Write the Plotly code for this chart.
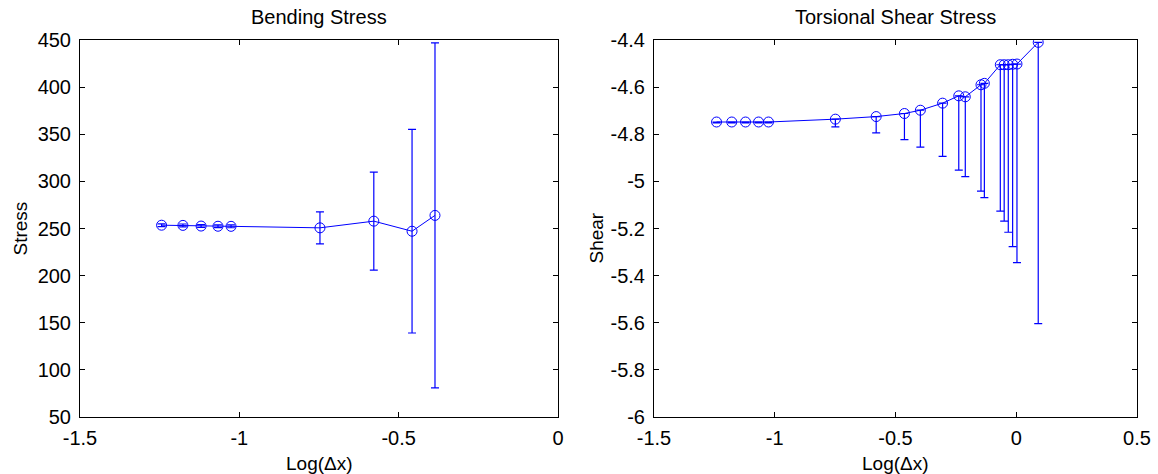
import plotly.graph_objects as go

# Bending stress estimates vs log step size
bend_x = [-1.244, -1.177, -1.120, -1.067, -1.026, -0.747, -0.578, -0.458, -0.386]
bend_y = [253.5, 253.3, 252.6, 252.4, 252.3, 250.7, 257.8, 247.1, 263.9]
bend_err = [1.5, 1.5, 1.5, 1.5, 1.5, 17.0, 52.0, 108.0, 183.0]

# Torsional shear stress estimates vs log step size (lower spread only)
shear_x = [-1.241, -1.178, -1.121, -1.067, -1.026, -0.749, -0.580, -0.463, -0.397,
           -0.305, -0.238, -0.211, -0.146, -0.132, -0.066, -0.050, -0.033, -0.015,
           0.003, 0.091]
shear_y = [-4.748, -4.748, -4.748, -4.748, -4.748, -4.736, -4.725, -4.712, -4.698,
           -4.668, -4.637, -4.641, -4.590, -4.584, -4.505, -4.505, -4.505, -4.503,
           -4.502, -4.410]
shear_err_low = [0.004, 0.004, 0.004, 0.004, 0.004, 0.033, 0.069, 0.111, 0.157,
                 0.226, 0.315, 0.339, 0.451, 0.485, 0.621, 0.664, 0.711, 0.774,
                 0.843, 1.194]

# Tick labels
bend_xticks = [-1.5, -1.0, -0.5, 0.0]
bend_xtext = ["-1.5", "-1", "-0.5", "0"]
bend_yticks = [50, 100, 150, 200, 250, 300, 350, 400, 450]
bend_ytext = ["50", "100", "150", "200", "250", "300", "350", "400", "450"]
shear_xticks = [-1.5, -1.0, -0.5, 0.0, 0.5]
shear_xtext = ["-1.5", "-1", "-0.5", "0", "0.5"]
shear_yticks = [-6.0, -5.8, -5.6, -5.4, -5.2, -5.0, -4.8, -4.6, -4.4]
shear_ytext = ["-6", "-5.8", "-5.6", "-5.4", "-5.2", "-5", "-4.8", "-4.6", "-4.4"]

W, H = 1158, 474
BLUE = "rgb(0,0,255)"
FONT = "Liberation Sans, Arial, Helvetica, sans-serif"

fig = go.Figure()

fig.add_trace(go.Scatter(
    x=bend_x, y=bend_y, mode="lines+markers",
    line=dict(color=BLUE, width=1),
    marker=dict(symbol="circle-open", size=10, color=BLUE, line=dict(width=1)),
    error_y=dict(type="data", array=bend_err, visible=True, color=BLUE,
                 thickness=1.2, width=4),
    xaxis="x", yaxis="y", showlegend=False))

fig.add_trace(go.Scatter(
    x=shear_x, y=shear_y, mode="lines+markers",
    line=dict(color=BLUE, width=1),
    marker=dict(symbol="circle-open", size=10, color=BLUE, line=dict(width=1)),
    error_y=dict(type="data", symmetric=False, array=[0] * len(shear_x),
                 arrayminus=shear_err_low, visible=True, color=BLUE,
                 thickness=1.2, width=4),
    xaxis="x2", yaxis="y2", showlegend=False))

# pixel layout of the two panels
L1, R1 = 80, 558
L2, R2 = 654, 1137
TOP, BOT = 40, 417

def fx(px):
    return px / W

def fy(py):
    return 1 - py / H

axis_common = dict(
    showgrid=False, zeroline=False, showline=True, linecolor="black", linewidth=1,
    mirror="ticks", ticks="inside", ticklen=5, tickcolor="black", automargin=False,
    tickfont=dict(family=FONT, size=20, color="black"),
)

fig.update_layout(
    width=W, height=H,
    margin=dict(l=0, r=0, t=0, b=0, autoexpand=False),
    paper_bgcolor="white", plot_bgcolor="white",
    xaxis=dict(domain=[fx(L1), fx(R1)], range=[-1.5, 0], anchor="y",
               tickmode="array", tickvals=bend_xticks, ticktext=bend_xtext,
               ticklabelstandoff=3, **axis_common),
    yaxis=dict(domain=[fy(BOT), fy(TOP)], range=[50, 450], anchor="x",
               tickmode="array", tickvals=bend_yticks, ticktext=bend_ytext,
               ticklabelstandoff=4, **axis_common),
    xaxis2=dict(domain=[fx(L2), fx(R2)], range=[-1.5, 0.5], anchor="y2",
                tickmode="array", tickvals=shear_xticks, ticktext=shear_xtext,
                ticklabelstandoff=3, **axis_common),
    yaxis2=dict(domain=[fy(BOT), fy(TOP)], range=[-6, -4.4], anchor="x2",
                tickmode="array", tickvals=shear_yticks, ticktext=shear_ytext,
                ticklabelstandoff=4, **axis_common),
)

label_font = dict(family=FONT, size=19, color="black")
title_font = dict(family=FONT, size=20, color="black")

annotations = [
    # panel titles
    dict(text="Bending Stress", x=fx((L1 + R1) / 2), y=fy(17), font=title_font),
    dict(text="Torsional Shear Stress", x=fx((L2 + R2) / 2), y=fy(17), font=title_font),
    # x-axis labels
    dict(text="Log(Δx)", x=fx((L1 + R1) / 2), y=fy(463), font=label_font),
    dict(text="Log(Δx)", x=fx((L2 + R2) / 2), y=fy(463), font=label_font),
    # y-axis labels
    dict(text="Stress", x=fx(20), y=fy((TOP + BOT) / 2), textangle=-90, font=label_font),
    dict(text="Shear", x=fx(596), y=fy((TOP + BOT) / 2 + 10), textangle=-90, font=label_font),
]
for a in annotations:
    a.update(xref="paper", yref="paper", showarrow=False,
             xanchor="center", yanchor="middle")
fig.update_layout(annotations=annotations)

fig.write_html("out.html")
